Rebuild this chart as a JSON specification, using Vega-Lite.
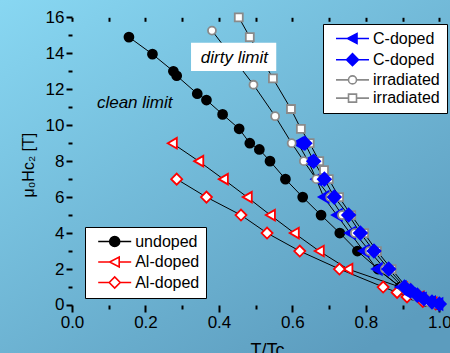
{
  "$schema": "https://vega.github.io/schema/vega-lite/v6.json",
  "width": 450,
  "height": 353,
  "padding": 0,
  "autosize": {"type": "none"},
  "background": "#72bad9",
  "view": {
    "stroke": null,
    "fill": {"gradient": "linear", "x1": 0, "y1": 0, "x2": 0.8, "y2": 1,
      "stops": [{"offset": 0, "color": "#88d7f2"}, {"offset": 1, "color": "#5c9cbe"}]}
  },
  "config": {
    "font": "Liberation Sans",
    "view": {"stroke": null}
  },
  "datasets": {
    "curves": [
      {"s": "undoped|circ", "T": 0.155, "H": 14.9},
      {"s": "undoped|circ", "T": 0.219, "H": 13.95},
      {"s": "undoped|circ", "T": 0.276, "H": 13.0},
      {"s": "undoped|circ", "T": 0.285, "H": 12.75},
      {"s": "undoped|circ", "T": 0.341, "H": 11.75},
      {"s": "undoped|circ", "T": 0.366, "H": 11.4},
      {"s": "undoped|circ", "T": 0.41, "H": 10.6},
      {"s": "undoped|circ", "T": 0.455, "H": 9.8},
      {"s": "undoped|circ", "T": 0.484, "H": 9.0},
      {"s": "undoped|circ", "T": 0.51, "H": 8.65},
      {"s": "undoped|circ", "T": 0.539, "H": 8.0},
      {"s": "undoped|circ", "T": 0.581, "H": 7.0},
      {"s": "undoped|circ", "T": 0.628, "H": 6.0},
      {"s": "undoped|circ", "T": 0.678, "H": 5.0},
      {"s": "undoped|circ", "T": 0.729, "H": 4.0},
      {"s": "undoped|circ", "T": 0.777, "H": 3.0},
      {"s": "undoped|circ", "T": 0.833, "H": 2.0},
      {"s": "undoped|circ", "T": 0.893, "H": 1.0},
      {"s": "undoped|circ", "T": 0.93, "H": 0.55},
      {"s": "undoped|circ", "T": 0.965, "H": 0.2},
      {"s": "undoped|circ", "T": 0.995, "H": 0.03},
      {"s": "Al-doped|tri", "T": 0.273, "H": 9.0},
      {"s": "Al-doped|tri", "T": 0.345, "H": 8.0},
      {"s": "Al-doped|tri", "T": 0.412, "H": 7.0},
      {"s": "Al-doped|tri", "T": 0.477, "H": 6.0},
      {"s": "Al-doped|tri", "T": 0.54, "H": 5.0},
      {"s": "Al-doped|tri", "T": 0.605, "H": 4.0},
      {"s": "Al-doped|tri", "T": 0.673, "H": 3.0},
      {"s": "Al-doped|tri", "T": 0.751, "H": 2.0},
      {"s": "Al-doped|tri", "T": 0.9, "H": 0.95},
      {"s": "Al-doped|tri", "T": 0.945, "H": 0.45},
      {"s": "Al-doped|tri", "T": 0.98, "H": 0.12},
      {"s": "Al-doped|dia", "T": 0.285, "H": 7.0},
      {"s": "Al-doped|dia", "T": 0.366, "H": 6.0},
      {"s": "Al-doped|dia", "T": 0.46, "H": 5.0},
      {"s": "Al-doped|dia", "T": 0.531, "H": 4.0},
      {"s": "Al-doped|dia", "T": 0.62, "H": 3.0},
      {"s": "Al-doped|dia", "T": 0.728, "H": 2.0},
      {"s": "Al-doped|dia", "T": 0.847, "H": 1.0},
      {"s": "Al-doped|dia", "T": 0.885, "H": 0.7},
      {"s": "Al-doped|dia", "T": 0.912, "H": 0.45},
      {"s": "Al-doped|dia", "T": 0.955, "H": 0.2},
      {"s": "Al-doped|dia", "T": 0.99, "H": 0.05},
      {"s": "C-doped|tri", "T": 0.615, "H": 9.0},
      {"s": "C-doped|tri", "T": 0.643, "H": 8.0},
      {"s": "C-doped|tri", "T": 0.665, "H": 7.0},
      {"s": "C-doped|tri", "T": 0.685, "H": 6.0},
      {"s": "C-doped|tri", "T": 0.721, "H": 5.0},
      {"s": "C-doped|tri", "T": 0.757, "H": 4.0},
      {"s": "C-doped|tri", "T": 0.794, "H": 3.0},
      {"s": "C-doped|tri", "T": 0.83, "H": 2.0},
      {"s": "C-doped|tri", "T": 0.895, "H": 1.0},
      {"s": "C-doped|tri", "T": 0.92, "H": 0.6},
      {"s": "C-doped|tri", "T": 0.95, "H": 0.35},
      {"s": "C-doped|tri", "T": 0.975, "H": 0.15},
      {"s": "C-doped|tri", "T": 0.995, "H": 0.05},
      {"s": "irradiated|circ", "T": 0.381, "H": 15.26},
      {"s": "irradiated|circ", "T": 0.494, "H": 12.25},
      {"s": "irradiated|circ", "T": 0.553, "H": 10.5},
      {"s": "irradiated|circ", "T": 0.598, "H": 9.0},
      {"s": "irradiated|circ", "T": 0.631, "H": 8.0},
      {"s": "irradiated|circ", "T": 0.665, "H": 7.0},
      {"s": "irradiated|circ", "T": 0.703, "H": 6.0},
      {"s": "irradiated|circ", "T": 0.735, "H": 5.0},
      {"s": "irradiated|circ", "T": 0.77, "H": 4.0},
      {"s": "irradiated|circ", "T": 0.81, "H": 3.0},
      {"s": "irradiated|circ", "T": 0.852, "H": 2.0},
      {"s": "irradiated|circ", "T": 0.9, "H": 1.0},
      {"s": "irradiated|circ", "T": 0.935, "H": 0.5},
      {"s": "irradiated|circ", "T": 0.97, "H": 0.15},
      {"s": "irradiated|sq", "T": 0.454, "H": 16.0},
      {"s": "irradiated|sq", "T": 0.484, "H": 14.9},
      {"s": "irradiated|sq", "T": 0.547, "H": 12.6},
      {"s": "irradiated|sq", "T": 0.596, "H": 10.9},
      {"s": "irradiated|sq", "T": 0.623, "H": 9.8},
      {"s": "irradiated|sq", "T": 0.647, "H": 9.0},
      {"s": "irradiated|sq", "T": 0.673, "H": 8.0},
      {"s": "irradiated|sq", "T": 0.686, "H": 7.5},
      {"s": "irradiated|sq", "T": 0.699, "H": 7.0},
      {"s": "irradiated|sq", "T": 0.727, "H": 6.0},
      {"s": "irradiated|sq", "T": 0.76, "H": 5.0},
      {"s": "irradiated|sq", "T": 0.795, "H": 4.0},
      {"s": "irradiated|sq", "T": 0.83, "H": 3.0},
      {"s": "irradiated|sq", "T": 0.87, "H": 2.0},
      {"s": "irradiated|sq", "T": 0.91, "H": 1.0},
      {"s": "irradiated|sq", "T": 0.935, "H": 0.65},
      {"s": "irradiated|sq", "T": 0.96, "H": 0.35},
      {"s": "irradiated|sq", "T": 0.99, "H": 0.08},
      {"s": "C-doped|dia", "T": 0.634, "H": 9.0},
      {"s": "C-doped|dia", "T": 0.658, "H": 8.0},
      {"s": "C-doped|dia", "T": 0.687, "H": 7.0},
      {"s": "C-doped|dia", "T": 0.714, "H": 6.0},
      {"s": "C-doped|dia", "T": 0.753, "H": 5.0},
      {"s": "C-doped|dia", "T": 0.785, "H": 4.0},
      {"s": "C-doped|dia", "T": 0.822, "H": 3.0},
      {"s": "C-doped|dia", "T": 0.862, "H": 2.0},
      {"s": "C-doped|dia", "T": 0.905, "H": 1.0},
      {"s": "C-doped|dia", "T": 0.922, "H": 0.8},
      {"s": "C-doped|dia", "T": 0.94, "H": 0.55},
      {"s": "C-doped|dia", "T": 0.958, "H": 0.35},
      {"s": "C-doped|dia", "T": 0.98, "H": 0.17},
      {"s": "C-doped|dia", "T": 1.0, "H": 0.05}
    ],
    "notes": [
      {"label": "clean limit", "T": 0.1707, "H": 10.94},
      {"label": "dirty limit", "T": 0.442, "H": 13.48}
    ],
    "boxes": [
      {"label": "dirty limit", "T0": 0.324, "T1": 0.556, "H0": 13.01, "H1": 14.59}
    ]
  },
  "layer": [
    {
      "mark": {"type": "rule", "strokeWidth": 2, "color": "#000000", "strokeCap": "square"},
      "encoding": {
        "x": {"datum": 0, "type": "quantitative",
          "scale": {"domain": [-0.196, 1.029], "nice": false, "zero": false},
          "axis": {"orient": "bottom", "offset": -48,
            "values": [0, 0.1, 0.2, 0.3, 0.4, 0.5, 0.6, 0.7, 0.8, 0.9, 1.0],
            "format": ".1f",
            "labelExpr": "round(datum.value*10) % 2 === 0 ? datum.label : ''",
            "tickSize": {"condition": {"test": "round(datum.value*10) % 2 === 0", "value": 7}, "value": 4},
            "tickWidth": 2, "tickColor": "#000000", "domain": false, "grid": false,
            "labelFontSize": 17, "labelColor": "#000000", "labelPadding": 2,
            "labelFlush": false, "labelOverlap": false,
            "title": "T/Tc", "titleX": 267, "titleY": 36, "titleBaseline": "top", "titleAlign": "center",
            "titleFontSize": 18, "titleFontWeight": "normal", "titleColor": "#000000"}},
        "y": {"datum": 0, "type": "quantitative",
          "scale": {"domain": [-2.67, 16.963], "nice": false, "zero": false},
          "axis": {"orient": "left", "offset": -72,
            "values": [0, 1, 2, 3, 4, 5, 6, 7, 8, 9, 10, 11, 12, 13, 14, 15, 16],
            "format": "d",
            "labelExpr": "datum.value % 2 === 0 ? datum.label : ''",
            "tickSize": {"condition": {"test": "datum.value % 2 === 0", "value": 6}, "value": 4},
            "tickWidth": 2, "tickColor": "#000000", "domain": false, "grid": false,
            "labelFontSize": 17, "labelColor": "#000000", "labelPadding": 2,
            "labelFlush": false, "labelOverlap": false,
            "title": "μ₀Hc₂ [T]", "titleX": -44, "titleY": 197, "titleAngle": 270,
            "titleBaseline": "middle", "titleAlign": "left",
            "titleFontSize": 16, "titleFontWeight": "normal", "titleColor": "#000000"}},
        "y2": {"datum": 16}
      }
    },
    {
      "mark": {"type": "rule", "strokeWidth": 2, "color": "#000000", "strokeCap": "square"},
      "encoding": {
        "x": {"datum": 0, "type": "quantitative",
          "scale": {"domain": [-0.196, 1.029], "nice": false, "zero": false},
          "axis": {"orient": "top", "offset": -21.3,
            "values": [0, 0.1, 0.2, 0.3, 0.4, 0.5, 0.6, 0.7, 0.8, 0.9, 1.0],
            "tickSize": 4, "tickWidth": 2, "tickColor": "#000000",
            "labels": false, "domain": false, "grid": false, "title": null}},
        "x2": {"datum": 1.2},
        "y": {"datum": 16, "type": "quantitative",
          "scale": {"domain": [-2.67, 16.963], "nice": false, "zero": false}, "axis": null}
      }
    },
    {
      "mark": {"type": "rule", "strokeWidth": 2, "color": "#000000", "strokeCap": "square"},
      "encoding": {
        "x": {"datum": 0, "type": "quantitative",
          "scale": {"domain": [-0.196, 1.029], "nice": false, "zero": false}, "axis": null},
        "x2": {"datum": 1.2},
        "y": {"datum": 0, "type": "quantitative",
          "scale": {"domain": [-2.67, 16.963], "nice": false, "zero": false}, "axis": null}
      }
    },
    {
      "data": {"name": "curves"},
      "transform": [{"filter": {"field": "s", "oneOf": ["undoped|circ", "Al-doped|tri", "Al-doped|dia"]}}],
      "mark": {"type": "line", "strokeWidth": 1, "color": "#000000"},
      "encoding": {
        "x": {"field": "T", "type": "quantitative",
          "scale": {"domain": [-0.196, 1.029], "nice": false, "zero": false}, "axis": null},
        "y": {"field": "H", "type": "quantitative",
          "scale": {"domain": [-2.67, 16.963], "nice": false, "zero": false}, "axis": null},
        "detail": {"field": "s", "type": "nominal"}
      }
    },
    {
      "data": {"name": "curves"},
      "transform": [{"filter": {"field": "s", "oneOf": ["undoped|circ", "Al-doped|tri", "Al-doped|dia"]}}],
      "mark": {"type": "point", "filled": true, "strokeWidth": 1.8, "opacity": 1},
      "encoding": {
        "x": {"field": "T", "type": "quantitative",
          "scale": {"domain": [-0.196, 1.029], "nice": false, "zero": false}, "axis": null},
        "y": {"field": "H", "type": "quantitative",
          "scale": {"domain": [-2.67, 16.963], "nice": false, "zero": false}, "axis": null},
        "shape": {"field": "s", "type": "nominal", "legend": null,
          "scale": {"domain": ["undoped|circ", "Al-doped|tri", "Al-doped|dia"], "range": ["circle", "triangle-left", "diamond"]}},
        "fill": {"field": "s", "type": "nominal", "legend": null,
          "scale": {"domain": ["undoped|circ", "Al-doped|tri", "Al-doped|dia"], "range": ["#000000", "#ffffff", "#ffffff"]}},
        "stroke": {"field": "s", "type": "nominal", "legend": null,
          "scale": {"domain": ["undoped|circ", "Al-doped|tri", "Al-doped|dia"], "range": ["#000000", "#ff0000", "#ff0000"]}},
        "size": {"field": "s", "type": "nominal", "legend": null,
          "scale": {"type": "ordinal", "domain": ["Al-doped|dia", "Al-doped|tri", "undoped|circ"], "range": [121, 110, 80]}}
      }
    },
    {
      "data": {"name": "curves"},
      "transform": [{"filter": {"field": "s", "oneOf": ["C-doped|tri", "C-doped|dia", "irradiated|circ", "irradiated|sq"]}}],
      "mark": {"type": "line", "strokeWidth": 1, "color": "#000000"},
      "encoding": {
        "x": {"field": "T", "type": "quantitative",
          "scale": {"domain": [-0.196, 1.029], "nice": false, "zero": false}, "axis": null},
        "y": {"field": "H", "type": "quantitative",
          "scale": {"domain": [-2.67, 16.963], "nice": false, "zero": false}, "axis": null},
        "detail": {"field": "s", "type": "nominal"}
      }
    },
    {
      "data": {"name": "curves"},
      "transform": [{"filter": {"field": "s", "oneOf": ["C-doped|tri", "C-doped|dia", "irradiated|circ", "irradiated|sq"]}}],
      "mark": {"type": "point", "filled": true, "strokeWidth": 1.8, "opacity": 1},
      "encoding": {
        "x": {"field": "T", "type": "quantitative",
          "scale": {"domain": [-0.196, 1.029], "nice": false, "zero": false}, "axis": null},
        "y": {"field": "H", "type": "quantitative",
          "scale": {"domain": [-2.67, 16.963], "nice": false, "zero": false}, "axis": null},
        "shape": {"field": "s", "type": "nominal", "legend": null,
          "scale": {"domain": ["C-doped|tri", "C-doped|dia", "irradiated|circ", "irradiated|sq"], "range": ["triangle-left", "diamond", "circle", "square"]}},
        "fill": {"field": "s", "type": "nominal", "legend": null,
          "scale": {"domain": ["C-doped|tri", "C-doped|dia", "irradiated|circ", "irradiated|sq"], "range": ["#0000ff", "#0000ff", "#ffffff", "#ffffff"]}},
        "stroke": {"field": "s", "type": "nominal", "legend": null,
          "scale": {"domain": ["C-doped|tri", "C-doped|dia", "irradiated|circ", "irradiated|sq"], "range": ["#0000ff", "#0000ff", "#8a8a8a", "#8a8a8a"]}},
        "size": {"field": "s", "type": "nominal", "legend": null,
          "scale": {"type": "ordinal", "domain": ["irradiated|sq", "irradiated|circ", "C-doped|dia", "C-doped|tri"], "range": [64, 64, 169, 130]}}
      }
    },
    {
      "data": {"name": "curves"},
      "transform": [{"filter": "false"}],
      "mark": {"type": "point", "filled": true, "size": 100, "strokeWidth": 1.6},
      "encoding": {
        "shape": {"field": "s", "type": "nominal",
          "scale": {"domain": ["undoped|circ", "Al-doped|tri", "Al-doped|dia"],
            "range": ["M-3.3,0H-1M1,0H3.3M-1,0A1,1,0,1,1,1,0A1,1,0,1,1,-1,0Z", "M-3.3,0H-1M0.9,0H3.3M-1,0L0.9,-1L0.9,1Z", "M-3.3,0H-1.1M1.1,0H3.3M-1.1,0L0,-1.1L1.1,0L0,1.1Z"]},
          "legend": {
            "title": null, "orient": "none", "legendX": 85, "legendY": 227,
            "padding": 6.5, "fillColor": "#ffffff", "strokeColor": "#000000",
            "labelFontSize": 16, "labelColor": "#000000", "labelLimit": 300,
            "rowPadding": 2.5, "symbolOffset": 15.2, "labelOffset": 12.5, "symbolStrokeWidth": 1.6, "symbolSize": 100, "symbolOpacity": 1,
            "labelExpr": "split(datum.label, '|')[0]"}},
        "fill": {"field": "s", "type": "nominal",
          "scale": {"domain": ["undoped|circ", "Al-doped|tri", "Al-doped|dia"], "range": ["#000000", "#ffffff", "#ffffff"]},
          "legend": {
            "title": null, "orient": "none", "legendX": 85, "legendY": 227,
            "padding": 6.5, "fillColor": "#ffffff", "strokeColor": "#000000",
            "labelFontSize": 16, "labelColor": "#000000", "labelLimit": 300,
            "rowPadding": 2.5, "symbolOffset": 15.2, "labelOffset": 12.5, "symbolStrokeWidth": 1.6, "symbolSize": 100, "symbolOpacity": 1,
            "labelExpr": "split(datum.label, '|')[0]"}},
        "stroke": {"field": "s", "type": "nominal",
          "scale": {"domain": ["undoped|circ", "Al-doped|tri", "Al-doped|dia"], "range": ["#000000", "#ff0000", "#ff0000"]},
          "legend": {
            "title": null, "orient": "none", "legendX": 85, "legendY": 227,
            "padding": 6.5, "fillColor": "#ffffff", "strokeColor": "#000000",
            "labelFontSize": 16, "labelColor": "#000000", "labelLimit": 300,
            "rowPadding": 2.5, "symbolOffset": 15.2, "labelOffset": 12.5, "symbolStrokeWidth": 1.6, "symbolSize": 100, "symbolOpacity": 1,
            "labelExpr": "split(datum.label, '|')[0]"}}
      }
    },
    {
      "data": {"name": "curves"},
      "transform": [{"filter": "false"}],
      "mark": {"type": "point", "filled": true, "size": 100, "strokeWidth": 1.6},
      "encoding": {
        "shape": {"field": "s", "type": "nominal",
          "scale": {"domain": ["C-doped|tri", "C-doped|dia", "irradiated|circ", "irradiated|sq"],
            "range": ["M-3.3,0H-1M0.9,0H3.3M-1,0L0.9,-1L0.9,1Z", "M-3.3,0H-1.2M1.2,0H3.3M-1.2,0L0,-1.2L1.2,0L0,1.2Z", "M-3.3,0H-0.8M0.8,0H3.3M-0.8,0A0.8,0.8,0,1,1,0.8,0A0.8,0.8,0,1,1,-0.8,0Z", "M-3.3,0H-0.8M0.8,0H3.3M-0.8,-0.8H0.8V0.8H-0.8Z"]},
          "legend": {
            "title": null, "orient": "none", "legendX": 323, "legendY": 24,
            "padding": 6.5, "fillColor": "#ffffff", "strokeColor": "#000000",
            "labelFontSize": 16, "labelColor": "#000000", "labelLimit": 300,
            "rowPadding": 2.2, "symbolOffset": 15, "labelOffset": 12.5, "symbolStrokeWidth": 1.6, "symbolSize": 100, "symbolOpacity": 1,
            "labelExpr": "split(datum.label, '|')[0]"}},
        "fill": {"field": "s", "type": "nominal",
          "scale": {"domain": ["C-doped|tri", "C-doped|dia", "irradiated|circ", "irradiated|sq"], "range": ["#0000ff", "#0000ff", "#ffffff", "#ffffff"]},
          "legend": {
            "title": null, "orient": "none", "legendX": 323, "legendY": 24,
            "padding": 6.5, "fillColor": "#ffffff", "strokeColor": "#000000",
            "labelFontSize": 16, "labelColor": "#000000", "labelLimit": 300,
            "rowPadding": 2.2, "symbolOffset": 15, "labelOffset": 12.5, "symbolStrokeWidth": 1.6, "symbolSize": 100, "symbolOpacity": 1,
            "labelExpr": "split(datum.label, '|')[0]"}},
        "stroke": {"field": "s", "type": "nominal",
          "scale": {"domain": ["C-doped|tri", "C-doped|dia", "irradiated|circ", "irradiated|sq"], "range": ["#0000ff", "#0000ff", "#8a8a8a", "#8a8a8a"]},
          "legend": {
            "title": null, "orient": "none", "legendX": 323, "legendY": 24,
            "padding": 6.5, "fillColor": "#ffffff", "strokeColor": "#000000",
            "labelFontSize": 16, "labelColor": "#000000", "labelLimit": 300,
            "rowPadding": 2.2, "symbolOffset": 15, "labelOffset": 12.5, "symbolStrokeWidth": 1.6, "symbolSize": 100, "symbolOpacity": 1,
            "labelExpr": "split(datum.label, '|')[0]"}}
      }
    },
    {
      "data": {"name": "boxes"},
      "mark": {"type": "rect", "fill": "#ffffff", "fillOpacity": 1, "strokeWidth": 0},
      "encoding": {
        "x": {"field": "T0", "type": "quantitative",
          "scale": {"domain": [-0.196, 1.029], "nice": false, "zero": false}, "axis": null},
        "x2": {"field": "T1"},
        "y": {"field": "H0", "type": "quantitative",
          "scale": {"domain": [-2.67, 16.963], "nice": false, "zero": false}, "axis": null},
        "y2": {"field": "H1"}
      }
    },
    {
      "data": {"name": "notes"},
      "mark": {"type": "text", "fontSize": 17, "fontStyle": "italic", "color": "#000000", "align": "center", "baseline": "alphabetic"},
      "encoding": {
        "x": {"field": "T", "type": "quantitative",
          "scale": {"domain": [-0.196, 1.029], "nice": false, "zero": false}, "axis": null},
        "y": {"field": "H", "type": "quantitative",
          "scale": {"domain": [-2.67, 16.963], "nice": false, "zero": false}, "axis": null},
        "text": {"field": "label", "type": "nominal"}
      }
    }
  ],
  "resolve": {
    "scale": {"shape": "independent", "fill": "independent", "stroke": "independent", "size": "independent"},
    "axis": {"x": "independent", "y": "independent"}
  }
}
